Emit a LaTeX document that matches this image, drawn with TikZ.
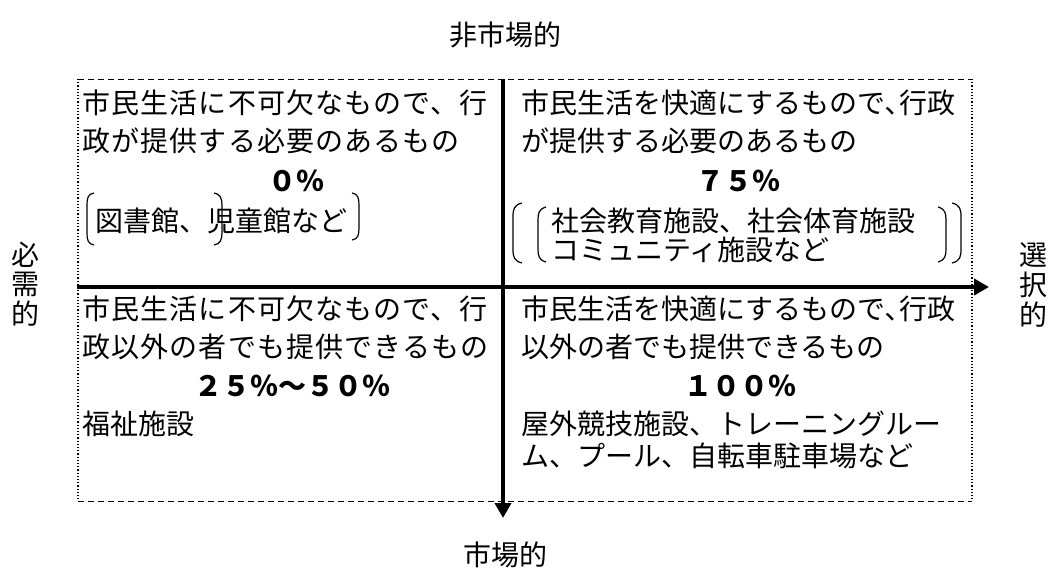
\documentclass[tikz,border=0pt]{standalone}
\usepackage{fontspec}
\setmainfont{Noto Sans CJK JP}
\usetikzlibrary{arrows.meta}

\begin{document}
\begin{tikzpicture}[x=0.5pt,y=-0.5pt,
    axis/.style={line width=2pt,-{Triangle[length=7.5pt,width=8pt]}},
    txt/.style={anchor=west,inner sep=0pt,font=\fontsize{14}{16}\selectfont},
    wide/.style={txt,font=\fontsize{14}{16}\selectfont\addfontfeature{LetterSpace=4}},
    pct/.style={inner sep=0pt,font=\fontsize{14}{16}\selectfont\bfseries},
    brk/.style={line width=0.6pt}]
    \useasboundingbox (0,0) rectangle (1049,568);

    % dotted frame
    \draw[densely dashed, line width=0.4pt] (78,79) -- (972,79) (78,501) -- (972,501);
    \draw[densely dotted, line width=0.6pt] (78,79) -- (78,501) (972,79) -- (972,501);

    % axes
    \coordinate (top) at (503,79);
    \coordinate (bot) at (503,518);
    \coordinate (lft) at (77,287);
    \coordinate (rgt) at (989,287);
    \draw[axis] (top) -- (bot);
    \draw[axis] (lft) -- (rgt);

    \node[inner sep=0pt, font=\fontsize{14}{16}\selectfont] (nonmkt) at (505,35) {非市場的};
    \node[inner sep=0pt, font=\fontsize{14}{16}\selectfont] (mkt) at (505,555) {市場的};
    \node[inner sep=0pt, align=center, font=\fontsize{14}{14.8}\selectfont] (need) at (25,284) {必\\需\\的};
    \node[inner sep=0pt, align=center, font=\fontsize{14}{14.8}\selectfont] (choice) at (1033,285) {選\\択\\的};

    % top left
    \node[wide] (tla) at (82,103) {市民生活に不可欠なもので、行};
    \node[wide] (tlb) at (82,141) {政が提供する必要のあるもの};
    \node[pct] (tlp) at (296,181) {０％};
    \node[txt] (tlc) at (95,221) {図書館、児童館など};
    \draw[brk] (94,193) .. controls (88,194) and (87,198) .. (87,205) -- (87,233) .. controls (87,240) and (88,244) .. (94,245);
    \draw[brk] (214,193) .. controls (220,194) and (222,198) .. (222,205) -- (222,233) .. controls (222,240) and (220,244) .. (214,245);
    \draw[brk] (352,193) .. controls (358,194) and (359,198) .. (359,205) -- (359,228) .. controls (359,235) and (358,239) .. (352,240);

    % top right
    \node[txt] (tra) at (521,103) {市民生活を快適にするもので､行政};
    \node[txt] (trb) at (521,141) {が提供する必要のあるもの};
    \node[pct] (trp) at (738,181) {７５％};
    \node[txt] (trc) at (551,221) {社会教育施設、社会体育施設};
    \node[txt] (trd) at (551,250) {コミュニティ施設など};
    \draw[brk] (522,203) .. controls (514,205) and (513,209) .. (513,217) -- (513,249) .. controls (513,257) and (514,261) .. (522,263);
    \draw[brk] (546,207) .. controls (539,209) and (538,213) .. (538,220) -- (538,249) .. controls (538,256) and (539,260) .. (546,262);
    \draw[brk] (938,207) .. controls (945,209) and (946,213) .. (946,220) -- (946,249) .. controls (946,256) and (945,260) .. (938,262);
    \draw[brk] (952,203) .. controls (960,205) and (961,209) .. (961,217) -- (961,249) .. controls (961,257) and (960,261) .. (952,263);

    % bottom left
    \node[wide] (bla) at (82,309) {市民生活に不可欠なもので、行};
    \node[wide] (blb) at (82,347) {政以外の者でも提供できるもの};
    \node[pct] (blp) at (292,386) {２５％～５０％};
    \node[txt] (blc) at (82,424) {福祉施設};

    % bottom right
    \node[txt] (bra) at (521,309) {市民生活を快適にするもので､行政};
    \node[txt] (brb) at (521,347) {以外の者でも提供できるもの};
    \node[pct] (brp) at (740,386) {１００％};
    \node[txt] (brc) at (521,424) {屋外競技施設、トレーニングルー};
    \node[txt] (brd) at (521,456) {ム、プール、自転車駐車場など};
\end{tikzpicture}
\end{document}
